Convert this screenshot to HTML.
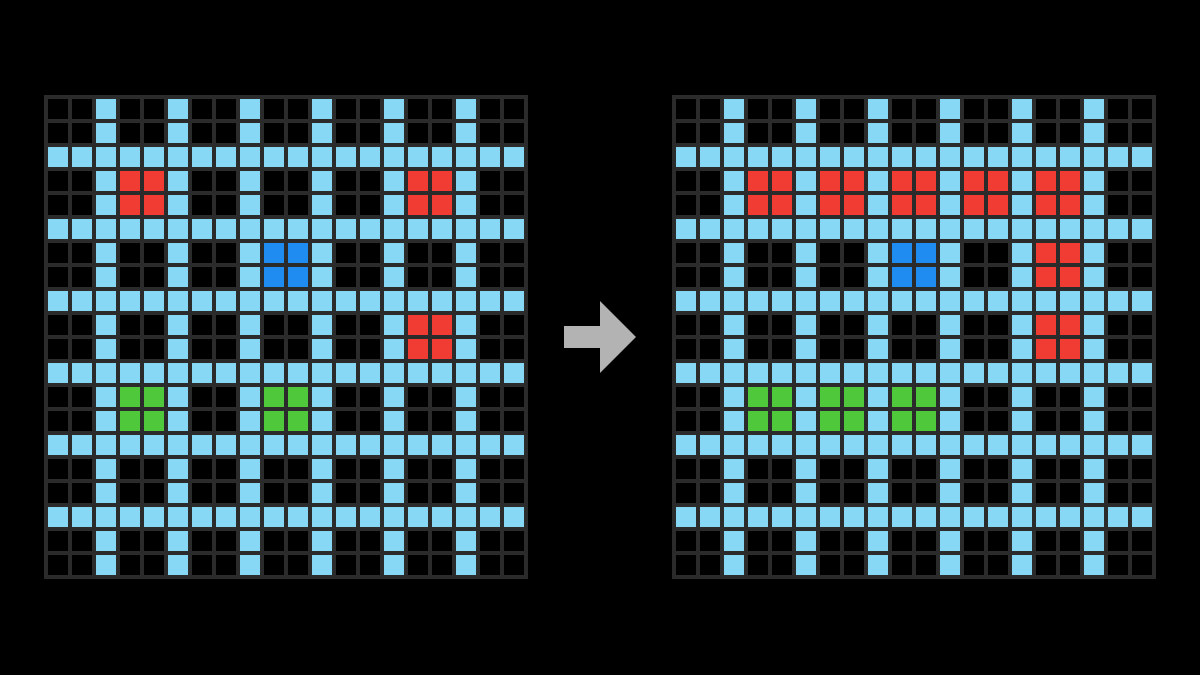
<!DOCTYPE html>
<html><head><meta charset="utf-8"><style>
html,body{margin:0;padding:0;background:#000;width:1200px;height:675px;overflow:hidden;position:relative}
.g{position:absolute;top:95px;width:484px;height:484px;background:#2b2b2b;box-sizing:border-box}
.c{position:absolute;width:20px;height:20px}
</style></head><body>
<div class="g" id="L" style="left:44px"></div>
<div class="g" id="R" style="left:672px"></div>
<svg style="position:absolute;left:0;top:0" width="1200" height="675"><polygon points="564,326 600,326 600,301 636,337 600,373 600,348 564,348" fill="#b3b3b3"/></svg>
<script>
var B='#87d8f5',K='#000',RD='#f03c32',BL='#1e8cf0',GR='#50c83c';
function build(id,blocks){
 var g=document.getElementById(id),h='';
 for(var r=0;r<20;r++)for(var c=0;c<20;c++){
  var col=(r%3==2||c%3==2)?B:K;
  for(var i=0;i<blocks.length;i++){var b=blocks[i];if(r>=b[0]&&r<b[0]+2&&c>=b[1]&&c<b[1]+2)col=b[2];}
  h+='<div class="c" style="left:'+(4+c*24)+'px;top:'+(4+r*24)+'px;background:'+col+'"></div>';
 }
 g.innerHTML=h;
}
build('L',[[3,3,RD],[3,15,RD],[6,9,BL],[9,15,RD],[12,3,GR],[12,9,GR]]);
build('R',[[3,3,RD],[3,6,RD],[3,9,RD],[3,12,RD],[3,15,RD],[6,9,BL],[6,15,RD],[9,15,RD],[12,3,GR],[12,6,GR],[12,9,GR]]);
</script>
</body></html>
